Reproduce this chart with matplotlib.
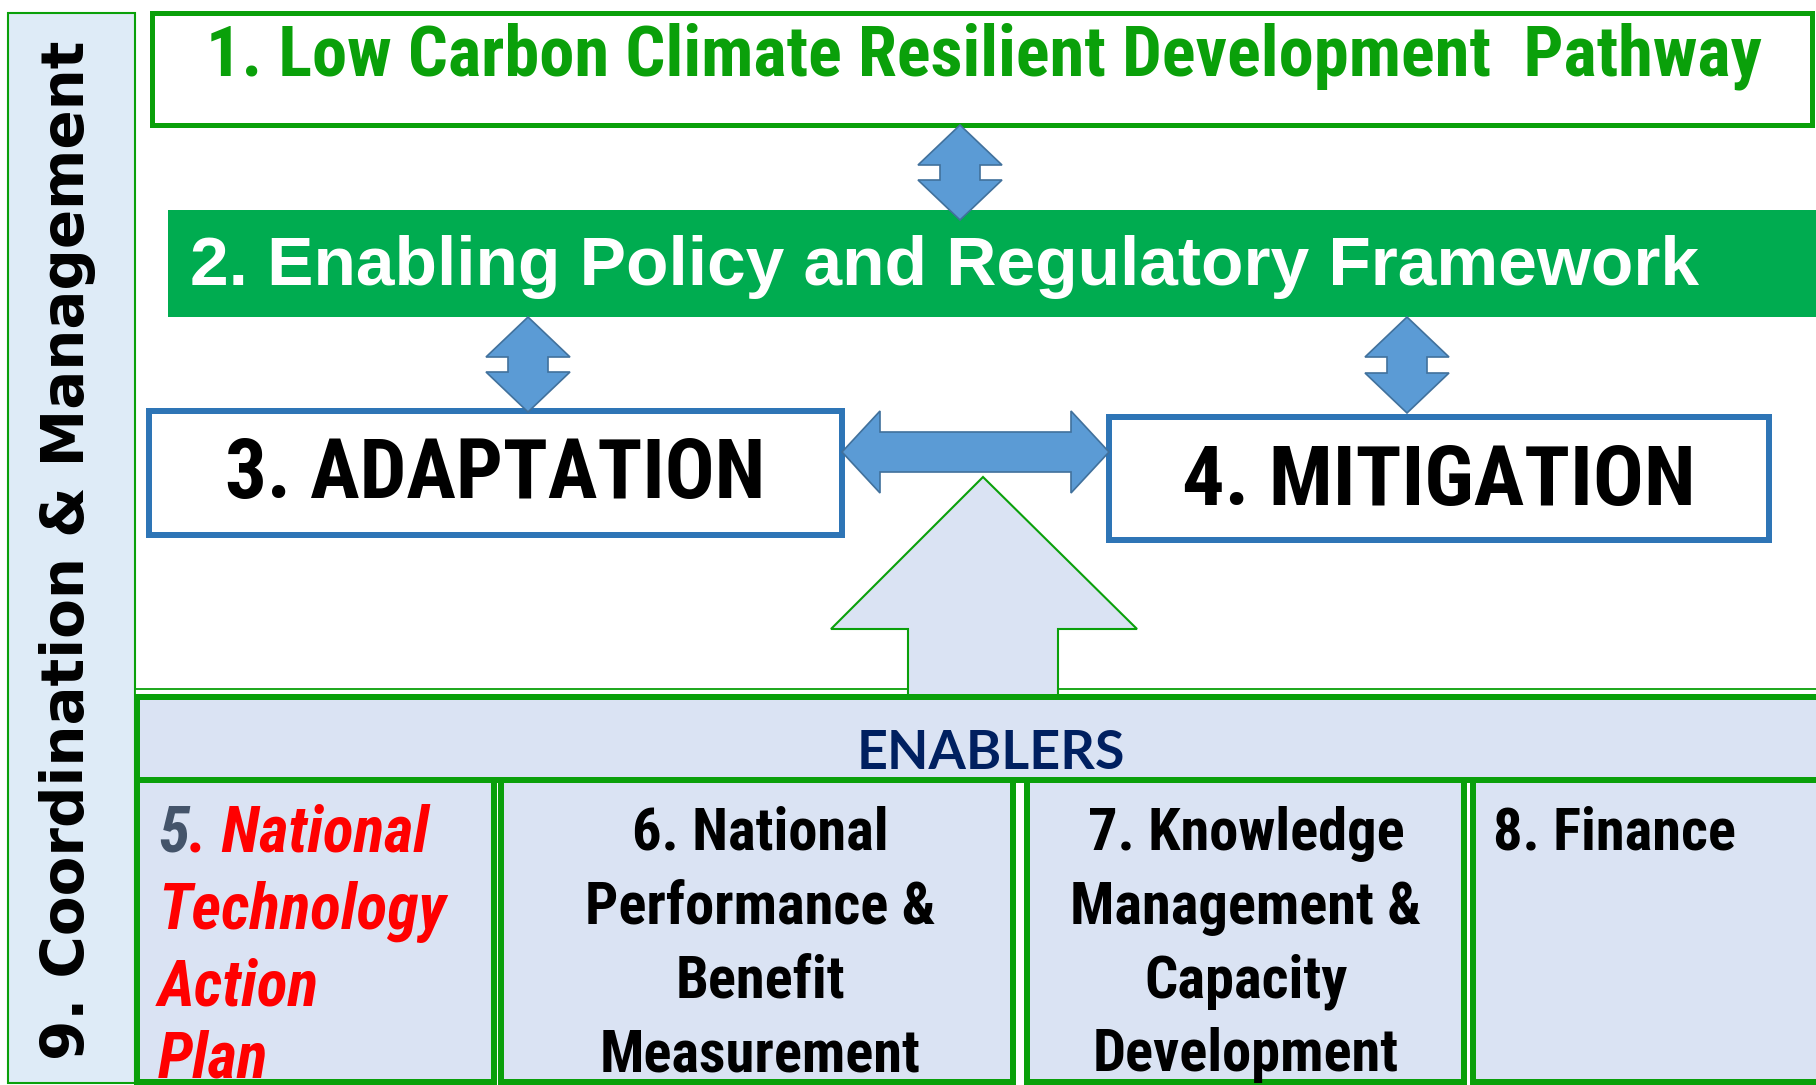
import matplotlib
matplotlib.use("Agg")
import matplotlib.pyplot as plt
from matplotlib.patches import Rectangle, Polygon
from matplotlib import font_manager

# ---------------- content ----------------
title_top = "1. Low Carbon Climate Resilient Development  Pathway"
title_policy = "2. Enabling Policy and Regulatory Framework"
label_adapt = "3. ADAPTATION"
label_mitig = "4. MITIGATION"
label_enablers = "ENABLERS"
side_label = "9. Coordination & Management"
cell5_num = "5"
cell5_lines = [". National", "Technology", "Action", "Plan"]
cell6_lines = ["6. National", "Performance &", "Benefit", "Measurement"]
cell7_lines = ["7. Knowledge", "Management &", "Capacity", "Development"]
cell8_lines = ["8. Finance"]

# ---------------- colours ----------------
GREEN = "#0AA00A"
GREEN_FILL = "#00AC50"
BLUE_FILL = "#5B9BD5"
BLUE_EDGE = "#41719C"
BOX_BLUE = "#2E75B6"
LIGHT = "#DAE3F3"
PANEL = "#DEEBF7"
NAVY = "#002060"

installed = {f.name for f in font_manager.fontManager.ttflist}
def pick(cands):
    for c in cands:
        if c in installed:
            return c
    return "DejaVu Sans"
NARROW = pick(["Liberation Sans Narrow", "Roboto Condensed", "DejaVu Sans"])
SANS = pick(["Liberation Sans", "DejaVu Sans"])
CAL = pick(["Lato", "Open Sans", "DejaVu Sans"])

W, H = 1816, 1085
fig = plt.figure(figsize=(W / 100, H / 100), dpi=100)
ax = fig.add_axes([0, 0, 1, 1])
ax.set_xlim(0, W)
ax.set_ylim(H, 0)
ax.axis("off")
fig.canvas.draw()
renderer = fig.canvas.get_renderer()

PX = 0.72  # points per pixel at dpi 100


def fit_text(x, y, s, width=None, height=None, size=None, **kw):
    t = ax.text(x, y, s, fontsize=size if size else 20, **kw)
    if size is None:
        bb = t.get_window_extent(renderer)
        if width is not None:
            t.set_fontsize(20 * width / bb.width)
        else:
            t.set_fontsize(20 * height / bb.height)
    return t


def measure_size(s, width, **kw):
    t = ax.text(0, 0, s, fontsize=20, **kw)
    bb = t.get_window_extent(renderer)
    t.remove()
    return 20 * width / bb.width


def vdouble(cx, y1, y2, hw, sw, hl):
    pts = [(cx, y1), (cx + hw, y1 + hl), (cx + sw, y1 + hl), (cx + sw, y2 - hl),
           (cx + hw, y2 - hl), (cx, y2), (cx - hw, y2 - hl), (cx - sw, y2 - hl),
           (cx - sw, y1 + hl), (cx - hw, y1 + hl)]
    ax.add_patch(Polygon(pts, closed=True, fc=BLUE_FILL, ec=BLUE_EDGE, lw=1.2, zorder=5))


def hdouble(x1, x2, cy, hw, sw, hl):
    pts = [(x1, cy), (x1 + hl, cy - hw), (x1 + hl, cy - sw), (x2 - hl, cy - sw),
           (x2 - hl, cy - hw), (x2, cy), (x2 - hl, cy + hw), (x2 - hl, cy + sw),
           (x1 + hl, cy + sw), (x1 + hl, cy + hw)]
    ax.add_patch(Polygon(pts, closed=True, fc=BLUE_FILL, ec=BLUE_EDGE, lw=1.2, zorder=5))


# ---------------- left panel ----------------
ax.add_patch(Rectangle((8, 13), 127, 1070, fc=PANEL, ec=GREEN, lw=1.5, zorder=1))
fit_text(68, 550, side_label, height=1020, rotation=90, ha="center", va="center",
         fontweight="heavy", family="DejaVu Sans", color="black", zorder=6)

# ---------------- box 1 ----------------
ax.add_patch(Rectangle((152, 13), 1660, 112, fc="white", ec=GREEN, lw=5 * PX, zorder=2))
fit_text(984, 75, title_top, width=1551, ha="center", va="baseline",
         fontweight="bold", family=NARROW, color=GREEN, zorder=6)

# ---------------- box 2 ----------------
ax.add_patch(Rectangle((168, 210), 1660, 107, fc=GREEN_FILL, ec="none", zorder=2))
fit_text(944, 285, title_policy, width=1508, ha="center", va="baseline",
         family=SANS, fontweight="bold", color="white", zorder=6)

# ---------------- arrows ----------------
vdouble(960, 125, 220, 42, 20, 40)
vdouble(528, 317, 412, 42, 20, 40)
vdouble(1407, 317, 413, 42, 20, 40)
hdouble(842, 1109, 452, 41, 20, 38)

# ---------------- boxes 3 and 4 ----------------
ax.add_patch(Rectangle((149, 411), 693, 124, fc="white", ec=BOX_BLUE, lw=6 * PX, zorder=3))
fit_text(495, 498, label_adapt, width=541, ha="center", va="baseline",
         fontweight="bold", family=NARROW, color="black", zorder=6)
ax.add_patch(Rectangle((1109, 417), 660, 123, fc="white", ec=BOX_BLUE, lw=6 * PX, zorder=3))
fit_text(1439, 505, label_mitig, width=514, ha="center", va="baseline",
         fontweight="bold", family=NARROW, color="black", zorder=6)

# ---------------- thin frame and big up arrow ----------------
ax.add_patch(Rectangle((135, 689), 1700, 400, fc="white", ec=GREEN, lw=1.3, zorder=2))
up = [(983, 477), (1137, 629), (1058, 629), (1058, 700), (908, 700), (908, 629), (831, 629)]
ax.add_patch(Polygon(up, closed=True, fc=LIGHT, ec=GREEN, lw=1.5, zorder=3))

# ---------------- enablers ----------------
ax.add_patch(Rectangle((137, 697), 1700, 83, fc=LIGHT, ec=GREEN, lw=6 * PX, zorder=4))
fit_text(991, 769, label_enablers, width=268, ha="center", va="baseline",
         fontweight="bold", family=CAL, color=NAVY, zorder=6)

cells = [(137, 494), (501, 1013), (1027, 1464), (1473, 1840)]
for (xa, xb) in cells:
    ax.add_patch(Rectangle((xa, 780), xb - xa, 302, fc=LIGHT, ec=GREEN, lw=6 * PX, zorder=4))

base = [850, 924, 998, 1071]
cs = measure_size("Measurement", 320, fontweight="bold", family=NARROW)
for i, s in enumerate(cell6_lines):
    ax.text(760, base[i], s, fontsize=cs, ha="center", va="baseline",
            fontweight="bold", family=NARROW, color="black", zorder=6)
for i, s in enumerate(cell7_lines):
    ax.text(1246, base[i], s, fontsize=cs, ha="center", va="baseline",
            fontweight="bold", family=NARROW, color="black", zorder=6)
for i, s in enumerate(cell8_lines):
    ax.text(1493, base[i], s, fontsize=cs, ha="left", va="baseline",
            fontweight="bold", family=NARROW, color="black", zorder=6)

base5 = [852, 929, 1005, 1077]
c5 = measure_size("Technology", 287, fontweight="bold", style="italic", family=NARROW)
t5 = ax.text(158, base5[0], cell5_num, fontsize=c5, ha="left", va="baseline",
             fontweight="bold", style="italic", family=NARROW, color="#44546A", zorder=6)
w5 = t5.get_window_extent(renderer).width
for i, s in enumerate(cell5_lines):
    x = 158 + (w5 if i == 0 else 0)
    ax.text(x, base5[i], s, fontsize=c5, ha="left", va="baseline",
            fontweight="bold", style="italic", family=NARROW, color="red", zorder=6)

fig.savefig("out.png", dpi=100)
